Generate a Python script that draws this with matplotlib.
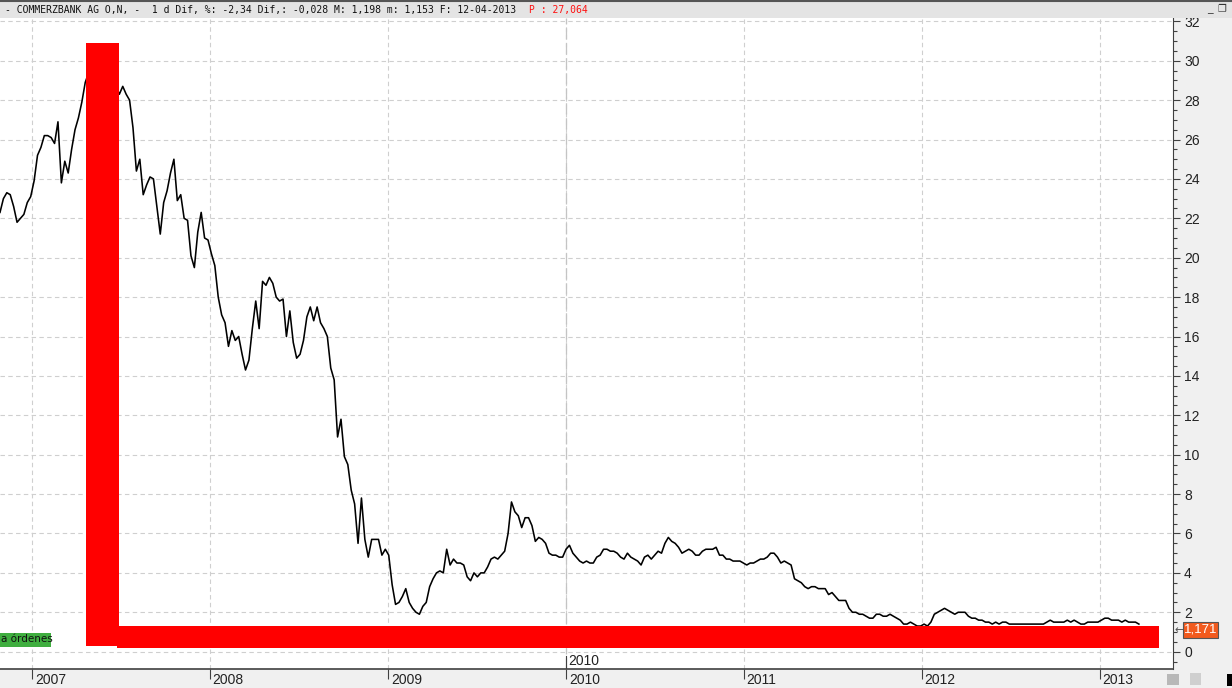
import numpy as np
import matplotlib
matplotlib.use("Agg")
import matplotlib.pyplot as plt
import matplotlib.ticker as mticker
import matplotlib.transforms as mtrans
from matplotlib.patches import Rectangle
import pandas as pd

# weekly closes (EUR), split by stretch of time
prices_2006_2007 = [22.3, 23.0, 23.3, 23.2, 22.6, 21.8, 22.0, 22.2, 22.8, 23.1,
                    23.9, 25.2, 25.6, 26.2, 26.2, 26.1, 25.8, 26.9, 23.8, 24.9,
                    24.3, 25.5, 26.5, 27.1, 27.9, 28.9, 29.4, 29.8, 29.2, 29.6,
                    30.1, 29.5, 28.9, 29.3, 28.7, 28.3, 28.7, 28.3, 28.0, 26.6,
                    24.4, 25.0, 23.2, 23.7, 24.1, 24.0, 22.6, 21.2, 22.8, 23.4,
                    24.3, 25.0, 22.9, 23.2, 22.0, 21.9, 20.1, 19.5, 21.3, 22.3,
                    21.0, 20.9, 20.2, 19.6, 18.0]
prices_2008 = [17.1, 16.7, 15.5, 16.3, 15.8,
               16.0, 15.1, 14.3, 14.8, 16.4, 17.8, 16.4, 18.8, 18.6, 19.0,
               18.7, 18.0, 17.8, 17.9, 16.0, 17.3, 15.7, 14.9, 15.1, 15.8,
               17.0, 17.5, 16.8, 17.5, 16.7, 16.4, 16.0, 14.4, 13.8, 10.9,
               11.8, 9.9, 9.5, 8.2, 7.5, 5.5, 7.8, 5.7, 4.8, 5.7,
               5.7, 5.7, 4.9, 5.2, 4.9, 3.4, 2.4, 2.5]
prices_2009 = [2.8, 3.2,
               2.5, 2.2, 2.0, 1.9, 2.3, 2.5, 3.3, 3.7, 4.0, 4.1,
               4.0, 5.2, 4.4, 4.7, 4.5, 4.5, 4.4, 3.8, 3.6, 4.0,
               3.8, 4.0, 4.0, 4.3, 4.7, 4.8, 4.7, 4.9, 5.1, 6.0,
               7.6, 7.1, 6.9, 6.3, 6.8, 6.8, 6.4, 5.6, 5.8, 5.7,
               5.5, 5.0, 4.9, 4.9, 4.8, 4.8, 5.2, 5.4, 5.0, 4.8,
               4.6, 4.5, 4.6, 4.5, 4.5, 4.8, 4.9, 5.2, 5.2, 5.1,
               5.1, 5.0]
prices_2010_2011 = [4.8, 4.7, 5.0, 4.8, 4.7, 4.6, 4.4, 4.8,
                    4.9, 4.7, 4.9, 5.1, 5.0, 5.5, 5.8, 5.6, 5.5, 5.3,
                    5.0, 5.1, 5.2, 5.1, 4.9, 4.9, 5.1, 5.2, 5.2, 5.2,
                    5.3, 4.9, 4.9, 4.7, 4.7, 4.6, 4.6, 4.6, 4.5, 4.4,
                    4.5, 4.5, 4.6, 4.7, 4.7, 4.8, 5.0, 5.0, 4.8, 4.5,
                    4.6, 4.5, 4.4, 3.7, 3.6, 3.5, 3.3, 3.2, 3.3, 3.3,
                    3.2, 3.2, 3.2, 2.9, 3.0, 2.8, 2.6, 2.6, 2.6, 2.2,
                    2.0, 2.0, 1.9]
prices_2011_2013 = [1.9, 1.8, 1.7, 1.7, 1.9, 1.9, 1.8,
                    1.8, 1.9, 1.8, 1.7, 1.6, 1.4, 1.4, 1.5, 1.4, 1.3,
                    1.3, 1.4, 1.3, 1.5, 1.9, 2.0, 2.1, 2.2, 2.1, 2.0,
                    1.9, 2.0, 2.0, 2.0, 1.8, 1.7, 1.7, 1.6, 1.6, 1.5,
                    1.5, 1.4, 1.5, 1.4, 1.5, 1.5, 1.4, 1.4, 1.4, 1.4,
                    1.4, 1.4, 1.4, 1.4, 1.4, 1.4, 1.4, 1.5, 1.6, 1.5,
                    1.5, 1.5, 1.5, 1.6, 1.5, 1.6, 1.5, 1.4, 1.4, 1.5,
                    1.5, 1.5, 1.5, 1.6, 1.7, 1.7, 1.6, 1.6, 1.6, 1.5,
                    1.6, 1.5, 1.5, 1.5, 1.4]

prices = prices_2006_2007 + prices_2008 + prices_2009 + prices_2010_2011 + prices_2011_2013
dates = pd.date_range('2006-10-27', periods=len(prices), freq='7D')

years = [2007, 2008, 2009, 2010, 2011, 2012, 2013]
y_ticks = list(range(0, 33, 2))

header_black = "- COMMERZBANK AG O,N, -  1 d Dif, %: -2,34 Dif,: -0,028 M: 1,198 m: 1,153 F: 12-04-2013"
header_red = "P : 27,064"
last_price = "1,171"
orders_label = "a órdenes"

# the red L someone drew over the chart: (start, end, low, high)
mark_vert = ('2007-04-21', '2007-06-29', 0.29, 30.9)
mark_horiz = ('2007-06-24', '2013-05-02', 0.19, 1.30)

label_font = ['Liberation Sans', 'DejaVu Sans']

W, H = 1232, 688
fig = plt.figure(figsize=(W / 100, H / 100), dpi=100)
fig.patch.set_facecolor('#f0f0f0')

ax = fig.add_axes([0, 19 / H, 1173 / W, 651 / H])
ax.set_facecolor('white')

ax.plot(dates, prices, color='black', lw=1.15, zorder=3)

for start, end, lo, hi in (mark_vert, mark_horiz):
    s = pd.Timestamp(start)
    e = pd.Timestamp(end)
    ax.add_patch(Rectangle((s, lo), e - s, hi - lo, facecolor='#ff0000',
                           edgecolor='none', zorder=4))

x_left = pd.Timestamp('2006-10-27')
ax.set_xlim(x_left, x_left + pd.Timedelta(days=2408))
ax.set_ylim(-0.88, 32.17)

# axes look
for side in ('left', 'top'):
    ax.spines[side].set_visible(False)
ax.spines['right'].set_color('#404040')
ax.spines['bottom'].set_color('#404040')
ax.spines['bottom'].set_linewidth(1.2)

ax.yaxis.tick_right()
ax.set_yticks(y_ticks)
ax.set_yticklabels([str(v) for v in y_ticks])
ax.yaxis.set_minor_locator(mticker.MultipleLocator(0.5))
ax.tick_params(axis='y', which='major', length=5, width=0.8, color='#404040',
               labelsize=10, pad=3, labelcolor='#222222')
ax.tick_params(axis='y', which='minor', length=3, width=0.8, color='#404040')

year_dates = [pd.Timestamp(f'{y}-01-01') for y in years]
ax.set_xticks(year_dates)
ax.set_xticklabels([str(y) for y in years])
ax.tick_params(axis='x', which='major', length=7, width=0.8, color='#404040',
               labelsize=10, pad=-4, labelcolor='#222222')
shift = mtrans.ScaledTranslation(2 / 72, 0, fig.dpi_scale_trans)
for lab in ax.get_xticklabels():
    lab.set_horizontalalignment('left')
    lab.set_transform(lab.get_transform() + shift)
for lab in ax.get_xticklabels() + ax.get_yticklabels():
    lab.set_fontfamily(label_font)

ax.grid(True, color='#cfcfcf', linestyle=(0, (4, 3)), lw=0.8)
ax.set_axisbelow(True)
ax.axvline(pd.Timestamp('2010-01-01'), color='#c4c4c4', linestyle=(0, (9, 3)),
           lw=0.9, zorder=1)

# the extra "2010" marker sitting inside the plot
blend = mtrans.blended_transform_factory(ax.transData, ax.transAxes)
d2010 = pd.Timestamp('2010-01-01')
ax.plot([d2010, d2010], [0, 0.02], transform=blend, color='#404040', lw=0.8,
        zorder=5)
ax.text(d2010 + pd.Timedelta(days=4), 0.012, '2010', transform=blend,
        fontsize=10, ha='left', va='center', color='#222222',
        family=label_font, zorder=5)

# header bar
fig.add_artist(Rectangle((0, 1 - 18 / H), 1, 18 / H, transform=fig.transFigure,
                         facecolor='#e4e4e4', edgecolor='none'))
fig.add_artist(plt.Line2D([0, 1], [1 - 0.5 / H, 1 - 0.5 / H],
                          transform=fig.transFigure, color='#555555', lw=1.5))
fig.text(5 / W, 1 - 9.5 / H, header_black, va='center', ha='left',
         family='DejaVu Sans Mono', fontsize=7.05, color='#111111')
fig.text(529 / W, 1 - 9.5 / H, header_red, va='center', ha='left',
         family='DejaVu Sans Mono', fontsize=7.05, color='#ff1010')
fig.text(1210 / W, 1 - 9 / H, '_', va='center', ha='center', fontsize=8,
         color='#333333')
fig.text(1222 / W, 1 - 9 / H, '❐', va='center', ha='center', fontsize=7,
         color='#333333', family='DejaVu Sans')

# green "órdenes" tag on the left edge
fig.add_artist(Rectangle((0, (H - 647) / H), 51 / W, 14 / H,
                         transform=fig.transFigure, facecolor='#3fae3f',
                         edgecolor='none'))
fig.text(1 / W, (H - 639.5) / H, orders_label, va='center', ha='left',
         fontsize=7.5, color='#111111')

# last price tag on the right axis
fig.add_artist(Rectangle((1183 / W, (H - 638) / H), 35 / W, 16 / H,
                         transform=fig.transFigure, facecolor='#f25a1d',
                         edgecolor='#555555', lw=0.8))
fig.text(1200.5 / W, (H - 630) / H, last_price, va='center', ha='center',
         fontsize=9.5, color='white', family=label_font)
fig.text(1179 / W, (H - 630) / H, '←', va='center', ha='center',
         fontsize=8, color='#555555')

# small toolbar icons bottom right
fig.add_artist(Rectangle((1167 / W, (H - 685) / H), 12 / W, 11 / H,
                         transform=fig.transFigure, facecolor='#b8b8b8',
                         edgecolor='none'))
fig.add_artist(Rectangle((1190 / W, (H - 685) / H), 11 / W, 12 / H,
                         transform=fig.transFigure, facecolor='#cfcfcf',
                         edgecolor='none'))
fig.add_artist(Rectangle((1227 / W, (H - 686) / H), 5 / W, 12 / H,
                         transform=fig.transFigure, facecolor='black',
                         edgecolor='none'))

fig.savefig('out.png', dpi=100, facecolor=fig.get_facecolor())
